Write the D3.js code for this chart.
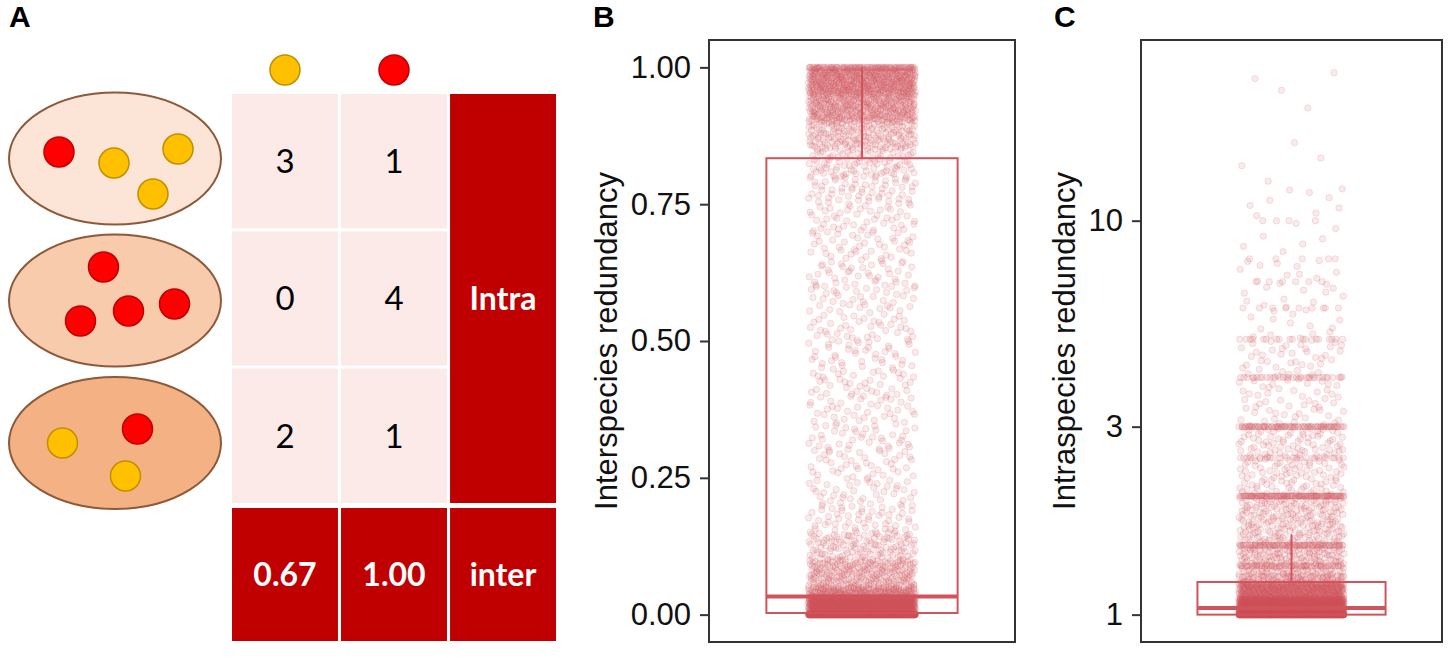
<!DOCTYPE html>
<html>
<head>
<meta charset="utf-8">
<script src="https://cdn.jsdelivr.net/npm/d3@7"></script>
<style>
body{margin:0;background:#fff}
svg{display:block}
</style>
</head>
<body>
<div id="fig"></div>
<script>
// ---------- data ----------

// panel A: toy example, two species in three samples
var sampleCounts = [[3, 1], [0, 4], [2, 1]];
var interValues = [0.67, 1.00];
var intraLabel = "Intra", interLabel = "inter";

// panel B: interspecies redundancy
var interTicks = [0, 0.25, 0.5, 0.75, 1];
var interBox = [0, 0.003, 0.033, 0.834, 1];          // min, q1, median, q3, max
// [lo, hi, n] : how many jittered points sit in each value band
var interBins = [
  [0, 0, 1000], [0, 0.033, 1000], [0.033, 0.05, 180], [0.05, 0.10, 240],
  [0.10, 0.15, 120], [0.15, 0.20, 55], [0.20, 0.25, 40], [0.25, 0.30, 40],
  [0.30, 0.35, 40], [0.35, 0.40, 40], [0.40, 0.45, 40], [0.45, 0.50, 40],
  [0.50, 0.55, 40], [0.55, 0.60, 40], [0.60, 0.65, 42], [0.65, 0.70, 42],
  [0.70, 0.75, 45], [0.75, 0.80, 60], [0.80, 0.85, 90], [0.85, 0.90, 170],
  [0.90, 0.95, 360], [0.95, 1.00, 520], [1, 1, 60]
];

// panel C: intraspecies redundancy (log axis)
var intraTicks = [1, 3, 10];
var intraBox = [1, 1, 1.04, 1.21, 1.6];
// exact ratios show up as stripes (lo == hi), the rest is spread
var intraBins = [
  [1, 1, 1000], [1, 1.04, 800], [1.04, 1.1, 700], [1.1, 1.21, 500],
  [1.21, 1.5, 250], [1.5, 2, 230], [2, 3, 170], [3, 5, 100],
  [5, 8, 40], [8, 12, 16], [12, 18, 5], [18, 24.5, 4],
  [1.25, 1.25, 25], [1.33, 1.33, 40], [1.5, 1.5, 60], [2, 2, 90],
  [2.5, 2.5, 20], [3, 3, 70], [4, 4, 30], [5, 5, 18],
  [6, 6, 8], [7, 7, 6], [8, 8, 5], [10, 10, 3]
];

// ---------- styles ----------
var spFill = ["#ffc000", "#ff0000"], spStroke = ["#bf9000", "#c00000"];
var ellFill = ["#fce4d6", "#f8cbad", "#f4b183"];
var darkRed = "#c00000", lightCell = "#fbeae8";
var boxCol = "#d1545c";
var fontA = "Lato, 'Open Sans', sans-serif";
var fontR = "'Liberation Sans', Arial, sans-serif";

var svg = d3.select("#fig").append("svg")
    .attr("width", 1454)
    .attr("height", 658);

// panel letters
svg.selectAll("text.letter")
    .data([["A", 9], ["B", 593], ["C", 1054]])
    .enter().append("text")
    .attr("class", "letter")
    .attr("x", function(d){ return d[1]; })
    .attr("y", 27)
    .style("font-family", fontR)
    .style("font-weight", "bold")
    .style("font-size", "30px")
    .text(function(d){ return d[0]; });

// ---------- panel A ----------
var gA = svg.append("g");
var col = d3.scaleBand().domain([0, 1, 2]).range([232, 556]).paddingInner(0.028);
var row = d3.scaleBand().domain([0, 1, 2]).range([94, 503]).paddingInner(0.022);

// species header dots
gA.selectAll("circle.head")
    .data(spFill)
    .enter().append("circle")
    .attr("cx", function(d, i){ return col(i) + col.bandwidth() / 2; })
    .attr("cy", 70)
    .attr("r", 15)
    .attr("fill", function(d){ return d; })
    .attr("stroke", function(d, i){ return spStroke[i]; })
    .attr("stroke-width", 1.5);

// sample ellipses with their members
var ellCy = [158.5, 300.5, 443];
var spots = [
  [[-1, 4.5], [63, -9.5], [38, 35.5], [-56, -6.5]],
  [[-11.5, -33.5], [-34.5, 20.5], [13.5, 10.5], [59.5, 3.5]],
  [[-52.5, 0], [10.5, 33], [22.5, -14]]
];
sampleCounts.forEach(function(c, s){
  gA.append("ellipse")
      .attr("cx", 115).attr("cy", ellCy[s])
      .attr("rx", 106).attr("ry", 66)
      .attr("fill", ellFill[s])
      .attr("stroke", "#8c5a3a")
      .attr("stroke-width", 2);
  var members = [];
  c.forEach(function(n, sp){ for (var k = 0; k < n; k++) members.push(sp); });
  gA.selectAll("circle.s" + s)
      .data(members)
      .enter().append("circle")
      .attr("cx", function(d, i){ return 115 + spots[s][i][0]; })
      .attr("cy", function(d, i){ return ellCy[s] + spots[s][i][1]; })
      .attr("r", 15)
      .attr("fill", function(d){ return spFill[d]; })
      .attr("stroke", function(d){ return spStroke[d]; })
      .attr("stroke-width", 1.5);
});

// count cells
var cells = [];
sampleCounts.forEach(function(c, r){ c.forEach(function(v, j){ cells.push({r: r, c: j, v: v}); }); });
gA.selectAll("rect.cell")
    .data(cells)
    .enter().append("rect")
    .attr("x", function(d){ return col(d.c); })
    .attr("y", function(d){ return row(d.r); })
    .attr("width", col.bandwidth())
    .attr("height", row.bandwidth())
    .attr("fill", lightCell);
gA.selectAll("text.cell")
    .data(cells)
    .enter().append("text")
    .attr("x", function(d){ return col(d.c) + col.bandwidth() / 2; })
    .attr("y", function(d){ return row(d.r) + row.bandwidth() / 2; })
    .attr("dy", "0.36em")
    .attr("text-anchor", "middle")
    .style("font-family", fontA)
    .style("font-size", "33px")
    .attr("fill", "#000")
    .text(function(d){ return d.v; });

// Intra column
gA.append("rect")
    .attr("x", col(2)).attr("y", row(0))
    .attr("width", col.bandwidth())
    .attr("height", row(2) + row.bandwidth() - row(0))
    .attr("fill", darkRed);

// bottom row: inter values + label
var bottom = interValues.map(function(v){ return v.toFixed(2); }).concat([interLabel]);
gA.selectAll("rect.bot")
    .data(bottom)
    .enter().append("rect")
    .attr("x", function(d, i){ return col(i); })
    .attr("y", 508)
    .attr("width", col.bandwidth())
    .attr("height", 133)
    .attr("fill", darkRed);

var whiteText = [{t: intraLabel, x: col(2) + col.bandwidth() / 2, y: (row(0) + row(2) + row.bandwidth()) / 2}]
  .concat(bottom.map(function(t, i){ return {t: t, x: col(i) + col.bandwidth() / 2, y: 574.5}; }));
gA.selectAll("text.white")
    .data(whiteText)
    .enter().append("text")
    .attr("x", function(d){ return d.x; })
    .attr("y", function(d){ return d.y; })
    .attr("dy", "0.36em")
    .attr("text-anchor", "middle")
    .style("font-family", fontA)
    .style("font-weight", "bold")
    .style("font-size", "32px")
    .attr("fill", "#fff")
    .text(function(d){ return d.t; });

// ---------- panels B and C ----------
// spread points of a band evenly across the jitter width (stands in for geom_jitter)
function halton(i, b){
  var f = 1, r = 0;
  while (i > 0){ f /= b; r += f * (i % b); i = Math.floor(i / b); }
  return r;
}

function drawPanel(o){
  var g = svg.append("g");
  var x = d3.scaleLinear().domain([0.4, 1.6]).range([o.left, o.right]);
  var y = o.log ? d3.scaleLog() : d3.scaleLinear();
  var lo = o.log ? Math.log10(o.box[0]) : o.box[0];
  var hi = o.log ? Math.log10(o.maxV) : o.maxV;
  var pad = (hi - lo) * 0.05;
  y.domain(o.log ? [Math.pow(10, lo - pad), Math.pow(10, hi + pad)] : [lo - pad, hi + pad])
   .range([o.bottom, o.top]);

  // jittered points
  var pts = [], idx = 1;
  o.bins.forEach(function(b){
    for (var k = 0; k < b[2]; k++, idx++){
      var h = halton(idx, 3), v;
      if (b[0] === b[1]) v = b[0];
      else if (o.log) v = Math.exp(Math.log(b[0]) + h * (Math.log(b[1]) - Math.log(b[0])));
      else v = b[0] + h * (b[1] - b[0]);
      pts.push({x: 1 + (halton(idx, 2) - 0.5) * 0.42, v: v});
    }
  });
  g.append("g").selectAll("circle")
      .data(pts)
      .enter().append("circle")
      .attr("cx", function(d){ return x(d.x); })
      .attr("cy", function(d){ return y(d.v); })
      .attr("r", 3.2)
      .attr("fill", boxCol)
      .attr("fill-opacity", 0.12)
      .attr("stroke", boxCol)
      .attr("stroke-opacity", 0.2)
      .attr("stroke-width", 0.8);

  // boxplot
  var bx = o.box;
  g.append("line")
      .attr("x1", x(1)).attr("x2", x(1))
      .attr("y1", y(bx[3])).attr("y2", y(bx[4]))
      .attr("stroke", boxCol).attr("stroke-width", 2);
  g.append("line")
      .attr("x1", x(1)).attr("x2", x(1))
      .attr("y1", y(bx[1])).attr("y2", y(bx[0]))
      .attr("stroke", boxCol).attr("stroke-width", 2);
  g.append("rect")
      .attr("x", x(0.625))
      .attr("y", y(bx[3]))
      .attr("width", x(1.375) - x(0.625))
      .attr("height", y(bx[1]) - y(bx[3]))
      .attr("fill", "none")
      .attr("stroke", boxCol)
      .attr("stroke-width", 2);
  g.append("line")
      .attr("x1", x(0.625)).attr("x2", x(1.375))
      .attr("y1", y(bx[2])).attr("y2", y(bx[2]))
      .attr("stroke", boxCol).attr("stroke-width", 4);

  // frame
  g.append("rect")
      .attr("x", o.left).attr("y", o.top)
      .attr("width", o.right - o.left)
      .attr("height", o.bottom - o.top)
      .attr("fill", "none")
      .attr("stroke", "#333")
      .attr("stroke-width", 2);

  // y axis
  var ax = g.append("g")
      .attr("transform", "translate(" + o.left + ",0)")
      .call(d3.axisLeft(y).tickValues(o.ticks).tickSize(9).tickPadding(9).tickFormat(o.fmt));
  ax.select(".domain").remove();
  ax.selectAll(".tick line").attr("stroke", "#333").attr("stroke-width", 2);
  ax.selectAll(".tick text")
      .style("font-family", fontR)
      .style("font-size", "31px")
      .attr("fill", "#111");

  g.append("text")
      .attr("transform", "translate(" + o.titleX + "," + (o.top + o.bottom) / 2 + ") rotate(-90)")
      .attr("text-anchor", "middle")
      .style("font-family", fontR)
      .style("font-size", "31px")
      .attr("fill", "#111")
      .text(o.title);
}

drawPanel({
  left: 709, right: 1015, top: 40, bottom: 642,
  box: interBox, maxV: 1, bins: interBins, ticks: interTicks,
  fmt: d3.format(".2f"), log: false,
  title: "Interspecies redundancy", titleX: 617
});

drawPanel({
  left: 1141, right: 1442, top: 40, bottom: 642,
  box: intraBox, maxV: 24.5, bins: intraBins, ticks: intraTicks,
  fmt: d3.format("d"), log: true,
  title: "Intraspecies redundancy", titleX: 1075
});
</script>
</body>
</html>
